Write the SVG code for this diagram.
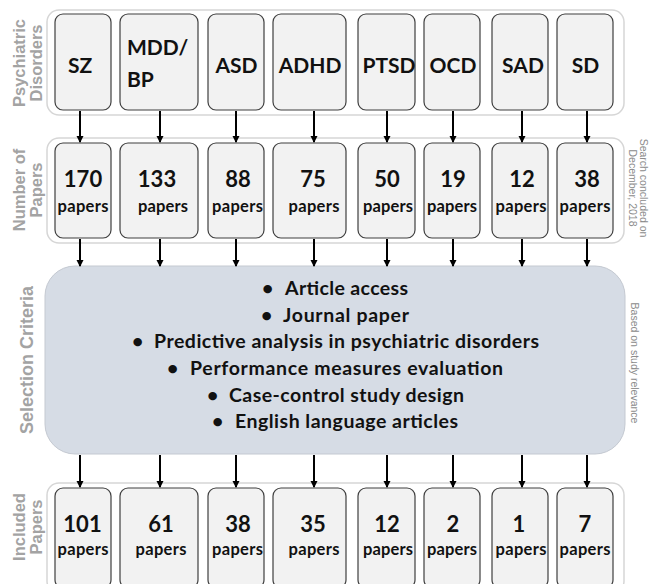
<svg xmlns="http://www.w3.org/2000/svg" width="649" height="584" viewBox="0 0 649 584">
<defs>
<marker id="ah" markerWidth="8" markerHeight="8" refX="6" refY="4" orient="auto" markerUnits="userSpaceOnUse">
<path d="M0,0.5 L7,4 L0,7.5 Z" fill="#000"/>
</marker>
<style>
.cont{fill:#fff;stroke:#d6d6d6;stroke-width:1.5}
.box{fill:#f2f2f2;stroke:#3f3f3f;stroke-width:1.2}
.sel{fill:#d6dce5;stroke:#c4c9d1;stroke-width:1}
.big{font-family:Lato,"Liberation Sans",sans-serif;font-weight:bold;font-size:21px;fill:#111;text-anchor:middle}
.num{font-family:Lato,"Liberation Sans",sans-serif;font-weight:bold;font-size:22px;fill:#111;text-anchor:middle}
.big2{font-family:Lato,"Liberation Sans",sans-serif;font-weight:bold;font-size:21px;fill:#111}
.pp{font-family:Lato,"Liberation Sans",sans-serif;font-weight:bold;font-size:16.5px;fill:#111;text-anchor:middle}
.crit{font-family:Lato,"Liberation Sans",sans-serif;font-weight:bold;font-size:19.5px;fill:#111}
.side{font-family:"Liberation Sans",Arial,sans-serif;font-weight:bold;font-size:16.5px;fill:#a3a3a3;text-anchor:middle}
.note{font-family:"Liberation Sans",Arial,sans-serif;font-size:10.5px;fill:#8c8c8c;text-anchor:middle}
.arr{stroke:#000;stroke-width:2;fill:none;marker-end:url(#ah)}
</style>
</defs>
<rect width="649" height="584" fill="#fff"/>

<!-- containers -->
<rect class="cont" x="47" y="10" width="577" height="105" rx="12"/>
<rect class="cont" x="47" y="138" width="577" height="105" rx="12"/>
<rect class="cont" x="47" y="483" width="577" height="110" rx="12"/>

<!-- side labels -->
<g id="lbl-disorders"><text class="side" transform="translate(25,63) rotate(-90)">Psychiatric</text><text class="side" transform="translate(42,63) rotate(-90)">Disorders</text></g>
<g id="lbl-number"><text class="side" transform="translate(25,190) rotate(-90)">Number of</text><text class="side" transform="translate(42,190) rotate(-90)">Papers</text></g>
<g id="lbl-selection"><text class="side" style="font-size:18px" transform="translate(33,360) rotate(-90)">Selection Criteria</text></g>
<g id="lbl-included"><text class="side" transform="translate(25,527) rotate(-90)">Included</text><text class="side" transform="translate(42,527) rotate(-90)">Papers</text></g>
<g id="note-search"><text class="note" transform="translate(640,188) rotate(90)">Search concluded on</text><text class="note" transform="translate(629,188) rotate(90)">December, 2018</text></g>
<g id="note-relevance"><text class="note" transform="translate(631,363) rotate(90)">Based on study relevance</text></g>

<!-- row 1 -->
<g id="d-sz"><rect class="box" x="55" y="14" width="56" height="96" rx="8"/><text class="big" x="80" y="73">SZ</text></g>
<g id="d-mdd"><rect class="box" x="120" y="14" width="78" height="96" rx="8"/><text class="big2" x="127" y="55">MDD/</text><text class="big2" x="127" y="87">BP</text></g>
<g id="d-asd"><rect class="box" x="208" y="14" width="56" height="96" rx="8"/><text class="big" x="236.5" y="73">ASD</text></g>
<g id="d-adhd"><rect class="box" x="273" y="14" width="73" height="96" rx="8"/><text class="big" x="310" y="73">ADHD</text></g>
<g id="d-ptsd"><rect class="box" x="358" y="14" width="57" height="96" rx="8"/><text class="big" x="389" y="73">PTSD</text></g>
<g id="d-ocd"><rect class="box" x="424" y="14" width="56" height="96" rx="8"/><text class="big" x="453" y="73">OCD</text></g>
<g id="d-sad"><rect class="box" x="492" y="14" width="56" height="96" rx="8"/><text class="big" x="523" y="73">SAD</text></g>
<g id="d-sd"><rect class="box" x="557" y="14" width="56" height="96" rx="8"/><text class="big" x="585.5" y="73">SD</text></g>

<!-- row 2 -->
<g id="n-sz"><rect class="box" x="55" y="143" width="56" height="95" rx="8"/><text class="num" x="83" y="187">170</text><text class="pp" x="83" y="212" textLength="51" lengthAdjust="spacing">papers</text></g>
<g id="n-mdd"><rect class="box" x="120" y="143" width="78" height="95" rx="8"/><text class="num" x="157" y="187">133</text><text class="pp" x="163" y="212" textLength="50" lengthAdjust="spacing">papers</text></g>
<g id="n-asd"><rect class="box" x="208" y="143" width="56" height="95" rx="8"/><text class="num" x="238" y="187">88</text><text class="pp" x="237.5" y="212" textLength="51" lengthAdjust="spacing">papers</text></g>
<g id="n-adhd"><rect class="box" x="273" y="143" width="73" height="95" rx="8"/><text class="num" x="313" y="187">75</text><text class="pp" x="314" y="212" textLength="51" lengthAdjust="spacing">papers</text></g>
<g id="n-ptsd"><rect class="box" x="358" y="143" width="57" height="95" rx="8"/><text class="num" x="387" y="187">50</text><text class="pp" x="388" y="212" textLength="50" lengthAdjust="spacing">papers</text></g>
<g id="n-ocd"><rect class="box" x="424" y="143" width="56" height="95" rx="8"/><text class="num" x="453" y="187">19</text><text class="pp" x="452" y="212" textLength="50" lengthAdjust="spacing">papers</text></g>
<g id="n-sad"><rect class="box" x="492" y="143" width="56" height="95" rx="8"/><text class="num" x="522" y="187">12</text><text class="pp" x="521" y="212" textLength="51" lengthAdjust="spacing">papers</text></g>
<g id="n-sd"><rect class="box" x="557" y="143" width="56" height="95" rx="8"/><text class="num" x="587" y="187">38</text><text class="pp" x="585" y="212" textLength="51" lengthAdjust="spacing">papers</text></g>

<!-- selection criteria -->
<g id="selection">
<rect class="sel" x="45" y="266" width="580" height="188" rx="30"/>
<text class="crit" x="262" y="295">•</text><text class="crit" x="285" y="295" textLength="123" lengthAdjust="spacing">Article access</text>
<text class="crit" x="261" y="322">•</text><text class="crit" x="283" y="322" textLength="126" lengthAdjust="spacing">Journal paper</text>
<text class="crit" x="132" y="348">•</text><text class="crit" x="154" y="348" textLength="385" lengthAdjust="spacing">Predictive analysis in psychiatric disorders</text>
<text class="crit" x="167" y="375">•</text><text class="crit" x="190" y="375" textLength="313" lengthAdjust="spacing">Performance measures evaluation</text>
<text class="crit" x="207" y="402">•</text><text class="crit" x="229" y="402" textLength="235" lengthAdjust="spacing">Case-control study design</text>
<text class="crit" x="212" y="428">•</text><text class="crit" x="235" y="428" textLength="223" lengthAdjust="spacing">English language articles</text>
</g>

<!-- row 4 -->
<g id="i-sz"><rect class="box" x="55" y="488" width="56" height="100" rx="8"/><text class="num" x="82.5" y="532">101</text><text class="pp" x="83" y="555" textLength="51" lengthAdjust="spacing">papers</text></g>
<g id="i-mdd"><rect class="box" x="120" y="488" width="78" height="100" rx="8"/><text class="num" x="161" y="532">61</text><text class="pp" x="161" y="555" textLength="51" lengthAdjust="spacing">papers</text></g>
<g id="i-asd"><rect class="box" x="208" y="488" width="56" height="100" rx="8"/><text class="num" x="238" y="532">38</text><text class="pp" x="237.5" y="555" textLength="51" lengthAdjust="spacing">papers</text></g>
<g id="i-adhd"><rect class="box" x="273" y="488" width="73" height="100" rx="8"/><text class="num" x="313" y="532">35</text><text class="pp" x="314" y="555" textLength="51" lengthAdjust="spacing">papers</text></g>
<g id="i-ptsd"><rect class="box" x="358" y="488" width="57" height="100" rx="8"/><text class="num" x="387" y="532">12</text><text class="pp" x="388" y="555" textLength="50" lengthAdjust="spacing">papers</text></g>
<g id="i-ocd"><rect class="box" x="424" y="488" width="56" height="100" rx="8"/><text class="num" x="453" y="532">2</text><text class="pp" x="452" y="555" textLength="50" lengthAdjust="spacing">papers</text></g>
<g id="i-sad"><rect class="box" x="492" y="488" width="56" height="100" rx="8"/><text class="num" x="519" y="532">1</text><text class="pp" x="521" y="555" textLength="51" lengthAdjust="spacing">papers</text></g>
<g id="i-sd"><rect class="box" x="557" y="488" width="56" height="100" rx="8"/><text class="num" x="585" y="532">7</text><text class="pp" x="585" y="555" textLength="51" lengthAdjust="spacing">papers</text></g>

<!-- connectors -->
<g id="connectors">
<path class="arr" d="M80,111 V142"/><path class="arr" d="M160,111 V142"/><path class="arr" d="M236,111 V142"/><path class="arr" d="M314,111 V142"/><path class="arr" d="M387,111 V142"/><path class="arr" d="M453,111 V142"/><path class="arr" d="M522,111 V142"/><path class="arr" d="M587,111 V142"/>
<path class="arr" d="M80,239 V266"/><path class="arr" d="M160,239 V266"/><path class="arr" d="M236,239 V266"/><path class="arr" d="M314,239 V266"/><path class="arr" d="M387,239 V266"/><path class="arr" d="M453,239 V266"/><path class="arr" d="M522,239 V266"/><path class="arr" d="M587,239 V266"/>
<path class="arr" d="M80,455 V487"/><path class="arr" d="M160,455 V487"/><path class="arr" d="M236,455 V487"/><path class="arr" d="M314,455 V487"/><path class="arr" d="M387,455 V487"/><path class="arr" d="M453,455 V487"/><path class="arr" d="M522,455 V487"/><path class="arr" d="M587,455 V487"/>
</g>
</svg>
